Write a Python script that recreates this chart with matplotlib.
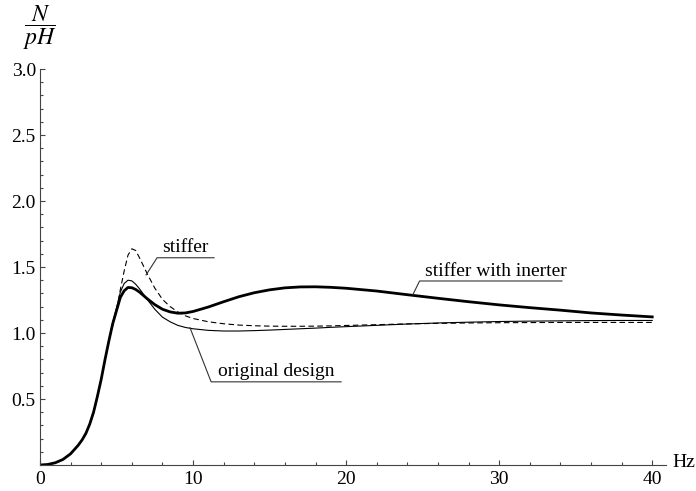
import numpy as np
import matplotlib
matplotlib.use("Agg")
import matplotlib.pyplot as plt
from matplotlib.ticker import MultipleLocator, FixedLocator

plt.rcParams["font.family"] = ["Liberation Serif", "DejaVu Serif"]
plt.rcParams["mathtext.fontset"] = "stix"

# frequency (Hz) and the three response curves
freq = [0, 0.5, 1, 1.5, 2, 2.5, 2.75, 3, 3.25, 3.5, 3.75, 4, 4.25, 4.5, 4.75,
        5, 5.25, 5.5, 5.75, 6, 6.25, 6.5,
        7, 7.5, 8, 8.5, 9, 9.5, 10, 11, 12, 13, 14, 15, 16, 17, 18, 19, 20,
        22, 24, 26, 28, 30, 32, 34, 36, 38, 40]

rise = [0, 0.004, 0.017, 0.042, 0.085, 0.15, 0.19, 0.24, 0.31, 0.40, 0.52,
        0.65, 0.80, 0.94]

original = rise + [1.08, 1.19, 1.31, 1.375, 1.40, 1.395, 1.37, 1.335,
                   1.255, 1.18, 1.12, 1.085, 1.058, 1.042, 1.032, 1.02, 1.015,
                   1.015, 1.018, 1.022, 1.027, 1.032, 1.037, 1.043, 1.048,
                   1.058, 1.068, 1.076, 1.082, 1.087, 1.09, 1.092, 1.094, 1.095, 1.095]

stiffer = rise + [1.06, 1.17, 1.33, 1.47, 1.59, 1.638, 1.625, 1.57,
                  1.45, 1.34, 1.255, 1.20, 1.16, 1.13, 1.11, 1.085, 1.07,
                  1.06, 1.055, 1.052, 1.051, 1.051, 1.052, 1.054, 1.057,
                  1.063, 1.069, 1.073, 1.076, 1.078, 1.079, 1.08, 1.08, 1.08, 1.08]

inerter = rise + [1.07, 1.17, 1.27, 1.32, 1.345, 1.343, 1.33, 1.31,
                  1.26, 1.215, 1.18, 1.16, 1.15, 1.152, 1.163, 1.197, 1.237,
                  1.275, 1.305, 1.327, 1.342, 1.349, 1.35, 1.346, 1.339,
                  1.318, 1.29, 1.263, 1.237, 1.213, 1.192, 1.173, 1.152, 1.136, 1.122]

# label text, text anchor, leader line (curve point, elbow, end)
labels = ["stiffer", "original design", "stiffer with inerter"]
text_pos = [(8.0, 1.585), (11.6, 0.645), (25.15, 1.405)]
leaders = [[(6.93, 1.44), (7.65, 1.57), (11.37, 1.57)],
           [(9.8, 1.04), (11.18, 0.63), (19.67, 0.63)],
           [(24.36, 1.29), (24.8, 1.394), (34.1, 1.394)]]

fig = plt.figure(figsize=(6.96, 4.91), dpi=100)
ax = fig.add_axes([40 / 696, 26 / 491, 626 / 696, 396 / 491])

ax.plot(freq, original, color="black", lw=0.8)
ax.plot(freq, stiffer, color="black", lw=0.8, ls=(0, (5, 3)))
ax.plot(freq, inerter, color="black", lw=2.0)

for txt, (tx, ty), pts in zip(labels, text_pos, leaders):
    xs, ys = zip(*pts)
    ax.plot(xs, ys, color="#333333", lw=0.8)
    ax.text(tx, ty, txt, fontsize=14, ha="left", va="bottom")

ax.set_xlim(0, 40.9)
ax.set_ylim(0, 3.0)

for s in ["top", "right"]:
    ax.spines[s].set_visible(False)
for s in ["left", "bottom"]:
    ax.spines[s].set_color("#444444")
    ax.spines[s].set_linewidth(0.8)

ax.xaxis.set_major_locator(FixedLocator([0, 10, 20, 30, 40]))
ax.xaxis.set_minor_locator(MultipleLocator(2))
ax.yaxis.set_major_locator(FixedLocator([0.5, 1.0, 1.5, 2.0, 2.5, 3.0]))
ax.yaxis.set_minor_locator(MultipleLocator(0.1))
ax.set_xticklabels(["0", "10", "20", "30", "40"])
ax.set_yticklabels(["0.5", "1.0", "1.5", "2.0", "2.5", "3.0"])
ax.tick_params(which="both", direction="in", color="#444444", width=0.8, labelsize=14)
ax.tick_params(which="major", length=3.6)
ax.tick_params(which="minor", length=2.2)
ax.tick_params(axis="x", pad=4)
ax.tick_params(axis="y", pad=3)

ax.text(41.3, 0.02, "Hz", fontsize=14, ha="left", va="center", clip_on=False)
ax.text(0, 3.31, r"$\dfrac{N}{pH}$", fontsize=17, ha="center", va="center", clip_on=False)

fig.savefig("out.png", dpi=100)
